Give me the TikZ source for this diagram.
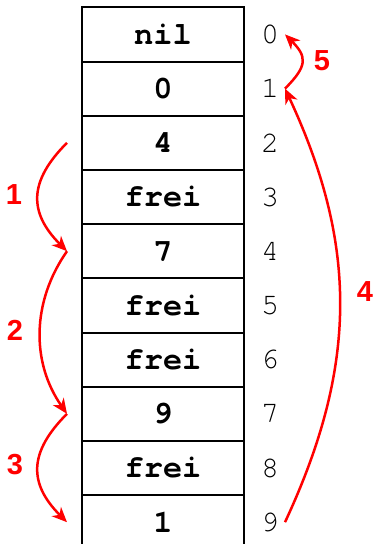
\documentclass[tikz,border=0pt]{standalone}
\usepackage{fontspec}
\setmainfont{Liberation Sans}
\newfontfamily\cellfont{TeX Gyre Cursor}
\usetikzlibrary{arrows.meta}
\begin{document}
\begin{tikzpicture}[x=1pt,y=-1pt,
  cellbox/.style={draw=black,line width=2pt,minimum width=162pt,minimum height=54.2pt,inner sep=0pt,
    font=\cellfont\bfseries\fontsize{32}{32}\selectfont},
  idx/.style={inner sep=0pt,font=\cellfont\fontsize{30}{30}\selectfont},
  redarrow/.style={draw=red,line width=2.5pt,-{Stealth[length=15pt,width=13pt,inset=4.5pt]}},
  redlabel/.style={text=red,inner sep=0pt,font=\bfseries\fontsize{29}{29}\selectfont}]
\clip (0,0) rectangle (374,544);
\useasboundingbox (0,0) rectangle (374,544);
\foreach \t [count=\i from 0] in {nil,0,4,frei,7,frei,frei,9,frei,1}{
  \node[cellbox] (c\i) at (163,{7.3+54.2*(\i+0.5)}) {\t};
  \node[idx] (i\i) at (270,{7.3+54.2*(\i+0.5)}) {\i};
  \coordinate (l\i) at ([xshift=-14pt]c\i.west);
  \coordinate (r\i) at (285,{7.3+54.2*(\i+0.5)});
}
\draw[redarrow] (l2) to[out=225,in=135,looseness=1.29] (l4);
\draw[redarrow] (l4) to[out=235,in=125,looseness=0.98] (l7);
\draw[redarrow] (l7) to[out=225,in=135,looseness=1.29] (l9);
\draw[redarrow] (r9) to[out=65,in=-65,looseness=1.02] (r1);
\draw[redarrow] (r1) to[out=45,in=-45,looseness=1.5] (r0);
\node[redlabel] (n1) at (14,195) {1};
\node[redlabel] (n2) at (15,330) {2};
\node[redlabel] (n3) at (15,465) {3};
\node[redlabel] (n4) at (365,292) {4};
\node[redlabel] (n5) at (322,61) {5};
\end{tikzpicture}
\end{document}
